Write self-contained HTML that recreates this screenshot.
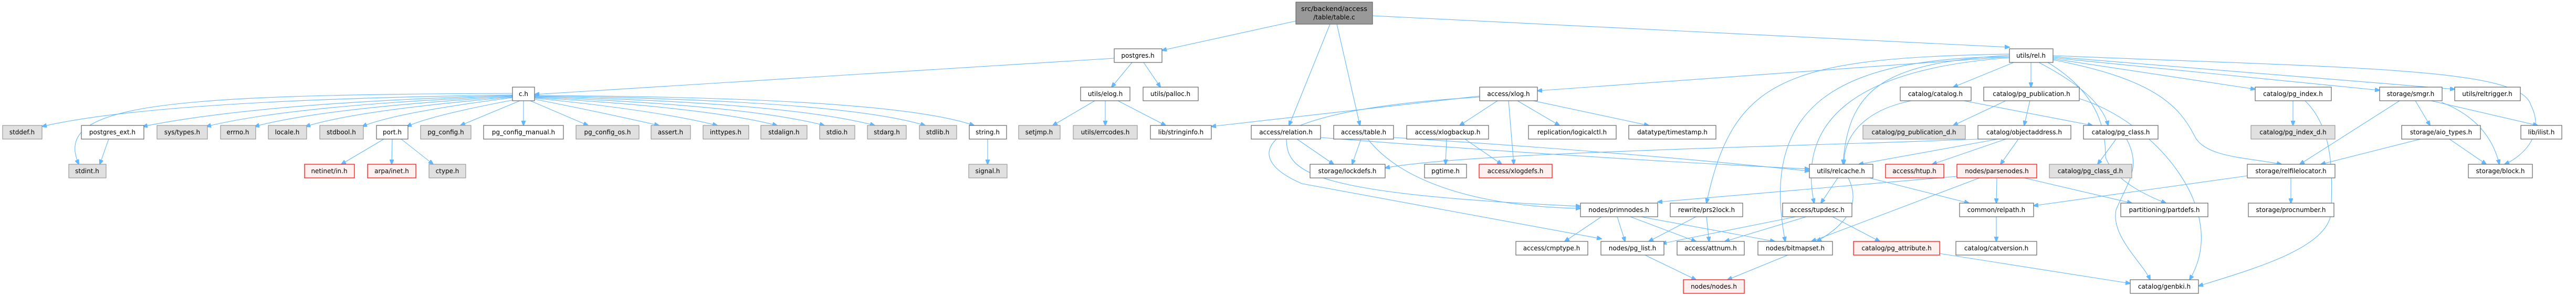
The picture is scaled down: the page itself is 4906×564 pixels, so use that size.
<!DOCTYPE html>
<html><head><meta charset="utf-8"><style>
html,body{margin:0;padding:0;background:#fff;}
svg{display:block;}
text{font-family:"DejaVu Sans","Liberation Sans",sans-serif;font-size:12px;fill:#000;text-anchor:middle;}
.n{fill:#fff;stroke:#666;stroke-width:1.2;}
.g{fill:#e0e0e0;stroke:#999;stroke-width:1.2;}
.r{fill:#fff0f0;stroke:#ff0000;stroke-width:1.2;}
.root{fill:#999;stroke:#666;stroke-width:1.2;}
path{fill:none;stroke:#63b8ff;stroke-width:1.1;marker-end:url(#a);}
</style></head><body>
<svg width="4906" height="564" viewBox="0 0 4906 564" xmlns="http://www.w3.org/2000/svg">
<defs><marker id="a" markerWidth="10" markerHeight="8" refX="9" refY="4" orient="auto" markerUnits="userSpaceOnUse"><path d="M0,0 L10,4 L0,8 z" style="fill:#63b8ff;stroke:#63b8ff;marker-end:none"/></marker></defs>

<!-- edges -->
<path d="M2468,40 L2213,96"/>
<path d="M2614,30 L3827,90"/>
<path d="M2533,46 L2455,239"/>
<path d="M2546,46 L2590,239"/>
<path d="M2122,111 L1018,180"/>
<path d="M2156,119 L2117,166"/>
<path d="M2178,119 L2210,166"/>
<path d="M976,181 Q300,190 80,241"/>
<path d="M976,182 Q500,195 272,241"/>
<path d="M976,183 Q560,200 393,241"/>
<path d="M976,184 Q620,205 485,241"/>
<path d="M976,185 Q680,210 582,241"/>
<path d="M976,186 Q750,215 690,241"/>
<path d="M980,190 Q820,220 775,241"/>
<path d="M990,192 L877,239"/>
<path d="M997,192 L997,239"/>
<path d="M1010,192 L1120,239"/>
<path d="M1018,189 Q1150,215 1255,239"/>
<path d="M1018,187 Q1250,210 1366,239"/>
<path d="M1018,186 Q1350,205 1480,239"/>
<path d="M1018,185 Q1420,200 1570,239"/>
<path d="M1018,184 Q1500,195 1666,239"/>
<path d="M1018,183 Q1600,190 1762,239"/>
<path d="M1018,182 Q1700,185 1855,239"/>
<path d="M976,178 C300,180 100,200 150,313"/>
<path d="M207,265 L190,313"/>
<path d="M731,265 L650,313"/>
<path d="M747,265 L746,313"/>
<path d="M764,265 L825,313"/>
<path d="M1881,265 L1881,313"/>
<path d="M2085,192 L2005,239"/>
<path d="M2105,192 L2105,239"/>
<path d="M2129,192 L2220,239"/>
<path d="M3827,108 L2928,173"/>
<path d="M2818,183 L2307,241"/>
<path d="M2818,185 C2380,210 2360,300 2480,350 L3050,455"/>
<path d="M2852,192 L2780,239"/>
<path d="M2890,192 L2970,239"/>
<path d="M2920,192 L3140,239"/>
<path d="M2873,192 L2883,313"/>
<path d="M2470,265 L2540,313"/>
<path d="M2515,262 Q3000,300 3446,322"/>
<path d="M2450,265 C2450,330 2500,370 3010,393"/>
<path d="M2592,265 L2575,313"/>
<path d="M2605,265 C2680,360 2850,395 3010,397"/>
<path d="M2654,262 Q3100,290 3446,326"/>
<path d="M2755,265 L2753,313"/>
<path d="M2790,265 L2860,313"/>
<path d="M3835,119 L3720,166"/>
<path d="M3868,119 L3868,166"/>
<path d="M3883,119 Q4000,180 4015,239"/>
<path d="M3910,112 L4295,170"/>
<path d="M3910,110 L4532,172"/>
<path d="M3910,108 L4675,170"/>
<path d="M3910,106 C4500,130 4800,130 4820,200 C4850,260 4800,300 4770,313"/>
<path d="M3910,114 C4100,150 4150,200 4180,260 C4200,300 4280,300 4345,313"/>
<path d="M3900,119 C4000,180 4010,250 4010,300 Q4030,350 4125,387"/>
<path d="M3827,105 C3600,120 3520,160 3510,313"/>
<path d="M3827,110 C3550,130 3420,220 3455,387"/>
<path d="M3827,108 C3500,110 3350,200 3400,460"/>
<path d="M3827,103 C3400,110 3300,150 3250,387"/>
<path d="M3640,192 C3550,210 3510,260 3512,313"/>
<path d="M3740,192 L3985,239"/>
<path d="M3820,192 L3720,239"/>
<path d="M3866,192 L3855,239"/>
<path d="M3960,188 C4100,230 4250,400 4170,533"/>
<path d="M3767,265 C3400,280 2800,290 2638,320"/>
<path d="M3805,265 L3540,313"/>
<path d="M3820,265 L3680,313"/>
<path d="M3844,265 L3810,313"/>
<path d="M4030,265 L3995,313"/>
<path d="M4050,265 C4080,320 4050,350 4030,400 C4020,450 4080,500 4095,533"/>
<path d="M4367,192 L4367,239"/>
<path d="M4390,192 C4450,250 4440,350 4440,400 C4440,470 4300,510 4187,545"/>
<path d="M4570,192 L4380,313"/>
<path d="M4600,192 L4628,239"/>
<path d="M4630,192 L4833,239"/>
<path d="M4650,195 Q4740,230 4760,313"/>
<path d="M4610,265 L4420,313"/>
<path d="M4665,265 L4735,313"/>
<path d="M4280,335 L3873,392"/>
<path d="M4363,339 L4363,387"/>
<path d="M3803,339 L3802,387"/>
<path d="M3855,339 L4060,387"/>
<path d="M3727,336 L3157,385"/>
<path d="M3770,339 L3450,460"/>
<path d="M3500,339 L3468,387"/>
<path d="M3520,339 C3540,380 3530,420 3460,460"/>
<path d="M3560,339 L3750,387"/>
<path d="M3802,413 L3802,460"/>
<path d="M3050,413 L2980,460"/>
<path d="M3080,413 L3095,460"/>
<path d="M3105,413 L3230,460"/>
<path d="M3125,413 L3380,460"/>
<path d="M3230,413 L3140,460"/>
<path d="M3250,413 L3255,460"/>
<path d="M3420,413 L3165,464"/>
<path d="M3440,413 L3285,460"/>
<path d="M3490,413 L3580,460"/>
<path d="M3133,486 L3230,533"/>
<path d="M3405,486 L3290,533"/>
<path d="M3694,483 L4057,540"/>

<!-- nodes -->
<rect class="root" x="2468" y="4" width="146" height="42"/><text x="2541" y="21" textLength="126" lengthAdjust="spacingAndGlyphs">src/backend/access</text><text x="2541" y="37">/table/table.c</text>

<g>
<rect class="n" x="2122" y="93" width="91" height="26"/><text x="2167" y="110">postgres.h</text>
<rect class="n" x="3827" y="93" width="83" height="26"/><text x="3868" y="110">utils/rel.h</text>

<rect class="n" x="976" y="166" width="42" height="26"/><text x="997" y="183">c.h</text>
<rect class="n" x="2058" y="166" width="94" height="26"/><text x="2105" y="183">utils/elog.h</text>
<rect class="n" x="2177" y="166" width="105" height="26"/><text x="2229" y="183">utils/palloc.h</text>
<rect class="n" x="2818" y="166" width="110" height="26"/><text x="2873" y="183">access/xlog.h</text>
<rect class="n" x="3619" y="166" width="135" height="26"/><text x="3686" y="183">catalog/catalog.h</text>
<rect class="n" x="3778" y="166" width="182" height="26"/><text x="3869" y="183">catalog/pg_publication.h</text>
<rect class="n" x="4295" y="166" width="145" height="26"/><text x="4367" y="183">catalog/pg_index.h</text>
<rect class="n" x="4532" y="166" width="119" height="26"/><text x="4591" y="183">storage/smgr.h</text>
<rect class="n" x="4675" y="166" width="125" height="26"/><text x="4737" y="183">utils/reltrigger.h</text>

<rect class="g" x="5" y="239" width="75" height="26"/><text x="42" y="256">stddef.h</text>
<rect class="n" x="155" y="239" width="119" height="26"/><text x="214" y="256">postgres_ext.h</text>
<rect class="g" x="299" y="239" width="96" height="26"/><text x="347" y="256">sys/types.h</text>
<rect class="g" x="420" y="239" width="67" height="26"/><text x="453" y="256">errno.h</text>
<rect class="g" x="511" y="239" width="73" height="26"/><text x="547" y="256">locale.h</text>
<rect class="g" x="609" y="239" width="83" height="26"/><text x="650" y="256">stdbool.h</text>
<rect class="n" x="717" y="239" width="60" height="26"/><text x="747" y="256">port.h</text>
<rect class="g" x="801" y="239" width="96" height="26"/><text x="849" y="256">pg_config.h</text>
<rect class="n" x="921" y="239" width="152" height="26"/><text x="997" y="256">pg_config_manual.h</text>
<rect class="g" x="1097" y="239" width="120" height="26"/><text x="1157" y="256">pg_config_os.h</text>
<rect class="g" x="1240" y="239" width="75" height="26"/><text x="1277" y="256">assert.h</text>
<rect class="g" x="1339" y="239" width="87" height="26"/><text x="1382" y="256">inttypes.h</text>
<rect class="g" x="1449" y="239" width="88" height="26"/><text x="1493" y="256">stdalign.h</text>
<rect class="g" x="1561" y="239" width="67" height="26"/><text x="1594" y="256">stdio.h</text>
<rect class="g" x="1652" y="239" width="74" height="26"/><text x="1689" y="256">stdarg.h</text>
<rect class="g" x="1751" y="239" width="71" height="26"/><text x="1786" y="256">stdlib.h</text>
<rect class="n" x="1846" y="239" width="71" height="26"/><text x="1881" y="256">string.h</text>
<rect class="g" x="1940" y="239" width="79" height="26"/><text x="1979" y="256">setjmp.h</text>
<rect class="g" x="2044" y="239" width="122" height="26"/><text x="2105" y="256">utils/errcodes.h</text>
<rect class="n" x="2191" y="239" width="116" height="26"/><text x="2249" y="256">lib/stringinfo.h</text>
<rect class="n" x="2383" y="239" width="132" height="26"/><text x="2449" y="256">access/relation.h</text>
<rect class="n" x="2540" y="239" width="114" height="26"/><text x="2597" y="256">access/table.h</text>
<rect class="n" x="2679" y="239" width="156" height="26"/><text x="2757" y="256">access/xlogbackup.h</text>
<rect class="n" x="2911" y="239" width="167" height="26"/><text x="2994" y="256">replication/logicalctl.h</text>
<rect class="n" x="3102" y="239" width="166" height="26"/><text x="3185" y="256">datatype/timestamp.h</text>
<rect class="g" x="3548" y="239" width="195" height="26"/><text x="3645" y="256">catalog/pg_publication_d.h</text>
<rect class="n" x="3767" y="239" width="177" height="26"/><text x="3855" y="256">catalog/objectaddress.h</text>
<rect class="n" x="3968" y="239" width="142" height="26"/><text x="4039" y="256">catalog/pg_class.h</text>
<rect class="g" x="4287" y="239" width="160" height="26"/><text x="4367" y="256">catalog/pg_index_d.h</text>
<rect class="n" x="4574" y="239" width="150" height="26"/><text x="4649" y="256">storage/aio_types.h</text>
<rect class="n" x="4801" y="239" width="78" height="26"/><text x="4840" y="256">lib/ilist.h</text>

<rect class="g" x="131" y="313" width="71" height="26"/><text x="166" y="330">stdint.h</text>
<rect class="r" x="580" y="313" width="95" height="26"/><text x="627" y="330">netinet/in.h</text>
<rect class="r" x="700" y="313" width="92" height="26"/><text x="746" y="330">arpa/inet.h</text>
<rect class="g" x="817" y="313" width="70" height="26"/><text x="852" y="330">ctype.h</text>
<rect class="g" x="1845" y="313" width="73" height="26"/><text x="1881" y="330">signal.h</text>
<rect class="n" x="2495" y="313" width="143" height="26"/><text x="2566" y="330">storage/lockdefs.h</text>
<rect class="n" x="2713" y="313" width="80" height="26"/><text x="2753" y="330">pgtime.h</text>
<rect class="r" x="2817" y="313" width="139" height="26"/><text x="2886" y="330">access/xlogdefs.h</text>
<rect class="n" x="3446" y="313" width="121" height="26"/><text x="3506" y="330">utils/relcache.h</text>
<rect class="r" x="3591" y="313" width="111" height="26"/><text x="3646" y="330">access/htup.h</text>
<rect class="r" x="3727" y="313" width="152" height="26"/><text x="3803" y="330">nodes/parsenodes.h</text>
<rect class="g" x="3903" y="313" width="157" height="26"/><text x="3981" y="330">catalog/pg_class_d.h</text>
<rect class="n" x="4280" y="313" width="167" height="26"/><text x="4363" y="330">storage/relfilelocator.h</text>
<rect class="n" x="4701" y="313" width="122" height="26"/><text x="4762" y="330">storage/block.h</text>

<rect class="n" x="3010" y="387" width="147" height="26"/><text x="3083" y="404">nodes/primnodes.h</text>
<rect class="n" x="3181" y="387" width="138" height="26"/><text x="3250" y="404">rewrite/prs2lock.h</text>
<rect class="n" x="3395" y="387" width="132" height="26"/><text x="3461" y="404">access/tupdesc.h</text>
<rect class="n" x="3732" y="387" width="141" height="26"/><text x="3802" y="404">common/relpath.h</text>
<rect class="n" x="4039" y="387" width="166" height="26"/><text x="4122" y="404">partitioning/partdefs.h</text>
<rect class="n" x="4282" y="387" width="163" height="26"/><text x="4363" y="404">storage/procnumber.h</text>

<rect class="n" x="2887" y="460" width="137" height="26"/><text x="2955" y="477">access/cmptype.h</text>
<rect class="n" x="3049" y="460" width="120" height="26"/><text x="3109" y="477">nodes/pg_list.h</text>
<rect class="n" x="3194" y="460" width="128" height="26"/><text x="3258" y="477">access/attnum.h</text>
<rect class="n" x="3348" y="460" width="142" height="26"/><text x="3419" y="477">nodes/bitmapset.h</text>
<rect class="r" x="3530" y="460" width="164" height="26"/><text x="3612" y="477">catalog/pg_attribute.h</text>
<rect class="n" x="3725" y="460" width="154" height="26"/><text x="3802" y="477">catalog/catversion.h</text>

<rect class="r" x="3206" y="533" width="116" height="26"/><text x="3264" y="550">nodes/nodes.h</text>
<rect class="n" x="4057" y="533" width="130" height="26"/><text x="4122" y="550">catalog/genbki.h</text>
</g>
</svg>
</body></html>
